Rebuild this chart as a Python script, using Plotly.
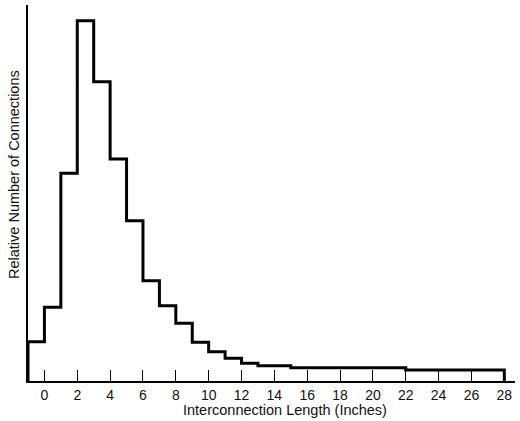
import plotly.graph_objects as go

# Data (bin start in inches, relative count)
bin_starts = list(range(-1, 28))
bin_width = 1
counts = [39.3, 73.7, 207.7, 360.3, 299.3, 222.0, 160.3, 100.3, 75.3, 57.7,
          38.7, 29.3, 22.7, 17.7, 15.3, 15.3,
          13.2, 13.2, 13.2, 13.2, 13.2, 13.2, 13.2,
          11.0, 11.0, 11.0, 11.0, 11.0, 11.0]
tick_vals = list(range(0, 29, 2))
tick_text = [str(v) for v in tick_vals]

# step outline from bin edges
xs = [bin_starts[0]] + [b for b in bin_starts] + [bin_starts[-1] + bin_width]
ys = [0] + counts + [0]

fig = go.Figure()
fig.add_trace(go.Scatter(x=xs, y=ys, mode="lines", line=dict(shape="hv", color="black", width=3),
                         hoverinfo="skip", showlegend=False))

FONT = "Liberation Sans, Arial, sans-serif"
fig.update_layout(
    width=520, height=421,
    margin=dict(l=28, r=5, t=5, b=40),
    paper_bgcolor="white", plot_bgcolor="white",
    showlegend=False,
    xaxis=dict(range=[-1, 28.65], tickvals=tick_vals, ticktext=tick_text,
               ticks="inside", ticklen=11, tickwidth=1, tickcolor="black",
               showline=True, linecolor="black", linewidth=2,
               showgrid=False, zeroline=False,
               tickfont=dict(family=FONT, size=14, color="#111")),
    yaxis=dict(range=[0, 376], showticklabels=False, ticks="",
               showline=True, linecolor="black", linewidth=2,
               showgrid=False, zeroline=False),
    annotations=[
        dict(text="Interconnection Length (Inches)", xref="paper", yref="paper",
             x=(285 - 28) / 487, y=-(410 - 381) / 376, showarrow=False,
             xanchor="center", yanchor="middle",
             font=dict(family=FONT, size=14.5, color="#111")),
        dict(text="Relative Number of Connections", xref="paper", yref="paper",
             x=-(28 - 14) / 487, y=(381 - 175) / 376, showarrow=False, textangle=-90,
             xanchor="center", yanchor="middle",
             font=dict(family=FONT, size=14.5, color="#111")),
    ],
)

fig.write_html("out.html")
